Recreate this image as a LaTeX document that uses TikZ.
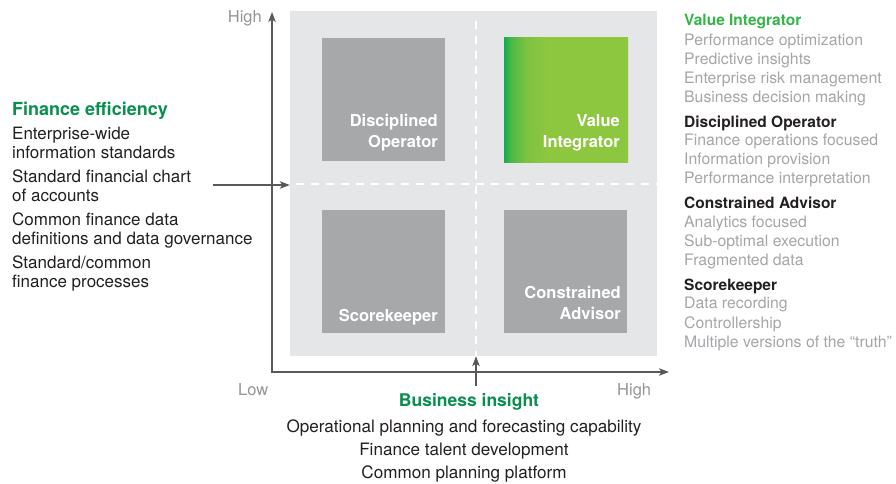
\documentclass[tikz,border=0pt]{standalone}
\usepackage{fontspec}
\setmainfont{TeX Gyre Heros}
\usetikzlibrary{arrows.meta}
\definecolor{bggray}{HTML}{E5E6E7}
\definecolor{boxgray}{HTML}{A7A8AA}
\definecolor{gdark}{HTML}{12AE4B}
\definecolor{gmida}{HTML}{4EB946}
\definecolor{gmidb}{HTML}{7CC241}
\definecolor{glight}{HTML}{8DC63F}
\definecolor{hgreen}{HTML}{078F4E}
\definecolor{vgreen}{HTML}{34B44A}
\definecolor{ltext}{HTML}{A3A5A8}
\definecolor{axtext}{HTML}{939598}
\definecolor{btext}{HTML}{231F20}
\definecolor{axcol}{HTML}{58595B}
\pgfdeclarehorizontalshading{vigrad}{100bp}{color(0bp)=(gdark); color(25bp)=(gdark); color(28bp)=(gmida); color(34bp)=(gmidb); color(42bp)=(glight); color(100bp)=(glight)}
\tikzset{
  txt/.style={inner sep=0pt, anchor=base west, text=btext, font=\fontsize{17}{19}\selectfont},
  ctxt/.style={inner sep=0pt, anchor=base, text=btext, font=\fontsize{17.1}{19}\selectfont},
  lhead/.style={inner sep=0pt, anchor=base west, text=hgreen, font=\fontsize{18}{20}\selectfont\bfseries},
  rhead/.style={inner sep=0pt, anchor=base west, text=btext, font=\fontsize{15.5}{19}\selectfont\bfseries},
  ritem/.style={inner sep=0pt, anchor=base west, text=ltext, font=\fontsize{15.8}{19}\selectfont},
  axlab/.style={inner sep=0pt, anchor=base, text=axtext, font=\fontsize{16.5}{19}\selectfont},
  quad/.style={fill=boxgray, minimum width=123pt, minimum height=123pt, inner sep=0pt, draw=none},
  qlab/.style={inner sep=0pt, anchor=base east, text=white, font=\fontsize{16.5}{20}\selectfont\bfseries},
  axis/.style={draw=axcol, line width=1.2pt},
  tip/.style={-{Stealth[length=10pt,width=7.5pt,inset=2.5pt]}},
  divider/.style={draw=white, line width=1.2pt, dash pattern=on 8pt off 7pt},
}
\begin{document}
\begin{tikzpicture}[x=1pt,y=-1pt]
\useasboundingbox (0,0) rectangle (896,483);
% background square
\node[fill=bggray, minimum width=367pt, minimum height=345pt, inner sep=0pt] (bg) at (473.5,183.5) {};
% dividers
\coordinate (vt) at (476,21);
\coordinate (vb) at (476,356);
\coordinate (hl) at (296,184);
\coordinate (hr) at (657,184);
\draw[divider] (vt) -- (vb);
\draw[divider] (hl) -- (hr);
% quadrant boxes
\node[quad] (dop) at (383.5,99.5) {};
\node[quad, minimum width=124pt, minimum height=125pt, shading=vigrad] (vin) at (566,99.5) {};
\node[quad] (sco) at (383.5,271.5) {};
\node[quad] (cad) at (565.5,271.5) {};
\node[qlab] (dop1) at (438,126) {Disciplined};
\node[qlab] (dop2) at (438,147) {Operator};
\node[qlab] (vin1) at (620,126) {Value};
\node[qlab] (vin2) at (620,147) {Integrator};
\node[qlab] (sco1) at (438,321) {Scorekeeper};
\node[qlab] (cad1) at (621,298) {Constrained};
\node[qlab] (cad2) at (621,319) {Advisor};
% axes
\coordinate (ytop) at (272,12);
\coordinate (orig) at (272,372);
\coordinate (xend) at (669,372);
\draw[axis, {Stealth[length=10pt,width=7.5pt,inset=2.5pt]}-{Stealth[length=10pt,width=7.5pt,inset=2.5pt]}] (ytop) -- (orig) -- (xend);
\node[axlab, anchor=base east] (yhigh) at (262,22) {High};
\node[axlab, anchor=base west] (xlow) at (238,395) {Low};
\node[axlab, anchor=base west] (xhigh) at (617,395) {High};
% arrows into the square
\coordinate (la) at (213,185);
\draw[axis, tip] (la) -- (la -| bg.west);
\coordinate (ba) at (476,386);
\draw[axis, tip] (ba) -- (ba |- bg.south);
% left list
\node[lhead] (fe) at (12,115) {Finance efficiency};
\node[txt] (l1) at (12,139) {Enterprise-wide};
\node[txt] (l2) at (12,158) {information standards};
\node[txt] (l3) at (12,182) {Standard financial chart};
\node[txt] (l4) at (12,201) {of accounts};
\node[txt] (l5) at (12,225) {Common finance data};
\node[txt] (l6) at (12,244) {definitions and data governance};
\node[txt] (l7) at (12,268) {Standard/common};
\node[txt] (l8) at (12,287) {finance processes};
% bottom list
\node[ctxt, text=hgreen, font=\fontsize{17.5}{20}\selectfont\bfseries] (bi) at (469,406) {Business insight};
\node[ctxt] (b1) at (464,432) {Operational planning and forecasting capability};
\node[ctxt] (b2) at (464,455) {Finance talent development};
\node[ctxt] (b3) at (464,478) {Common planning platform};
% right list
\node[rhead, text=vgreen] (r0) at (684,25) {Value Integrator};
\node[ritem] (r1) at (684,45) {Performance optimization};
\node[ritem] (r2) at (684,64) {Predictive insights};
\node[ritem] (r3) at (684,83) {Enterprise risk management};
\node[ritem] (r4) at (684,102) {Business decision making};
\node[rhead] (r5) at (684,127) {Disciplined Operator};
\node[ritem] (r6) at (684,145) {Finance operations focused};
\node[ritem] (r7) at (684,164) {Information provision};
\node[ritem] (r8) at (684,183) {Performance interpretation};
\node[rhead] (r9) at (684,208) {Constrained Advisor};
\node[ritem] (r10) at (684,227) {Analytics focused};
\node[ritem] (r11) at (684,246) {Sub-optimal execution};
\node[ritem] (r12) at (684,265) {Fragmented data};
\node[rhead] (r13) at (684,290) {Scorekeeper};
\node[ritem] (r14) at (684,308) {Data recording};
\node[ritem] (r15) at (684,328) {Controllership};
\node[ritem] (r16) at (684,347) {Multiple versions of the “truth”};
\end{tikzpicture}
\end{document}
